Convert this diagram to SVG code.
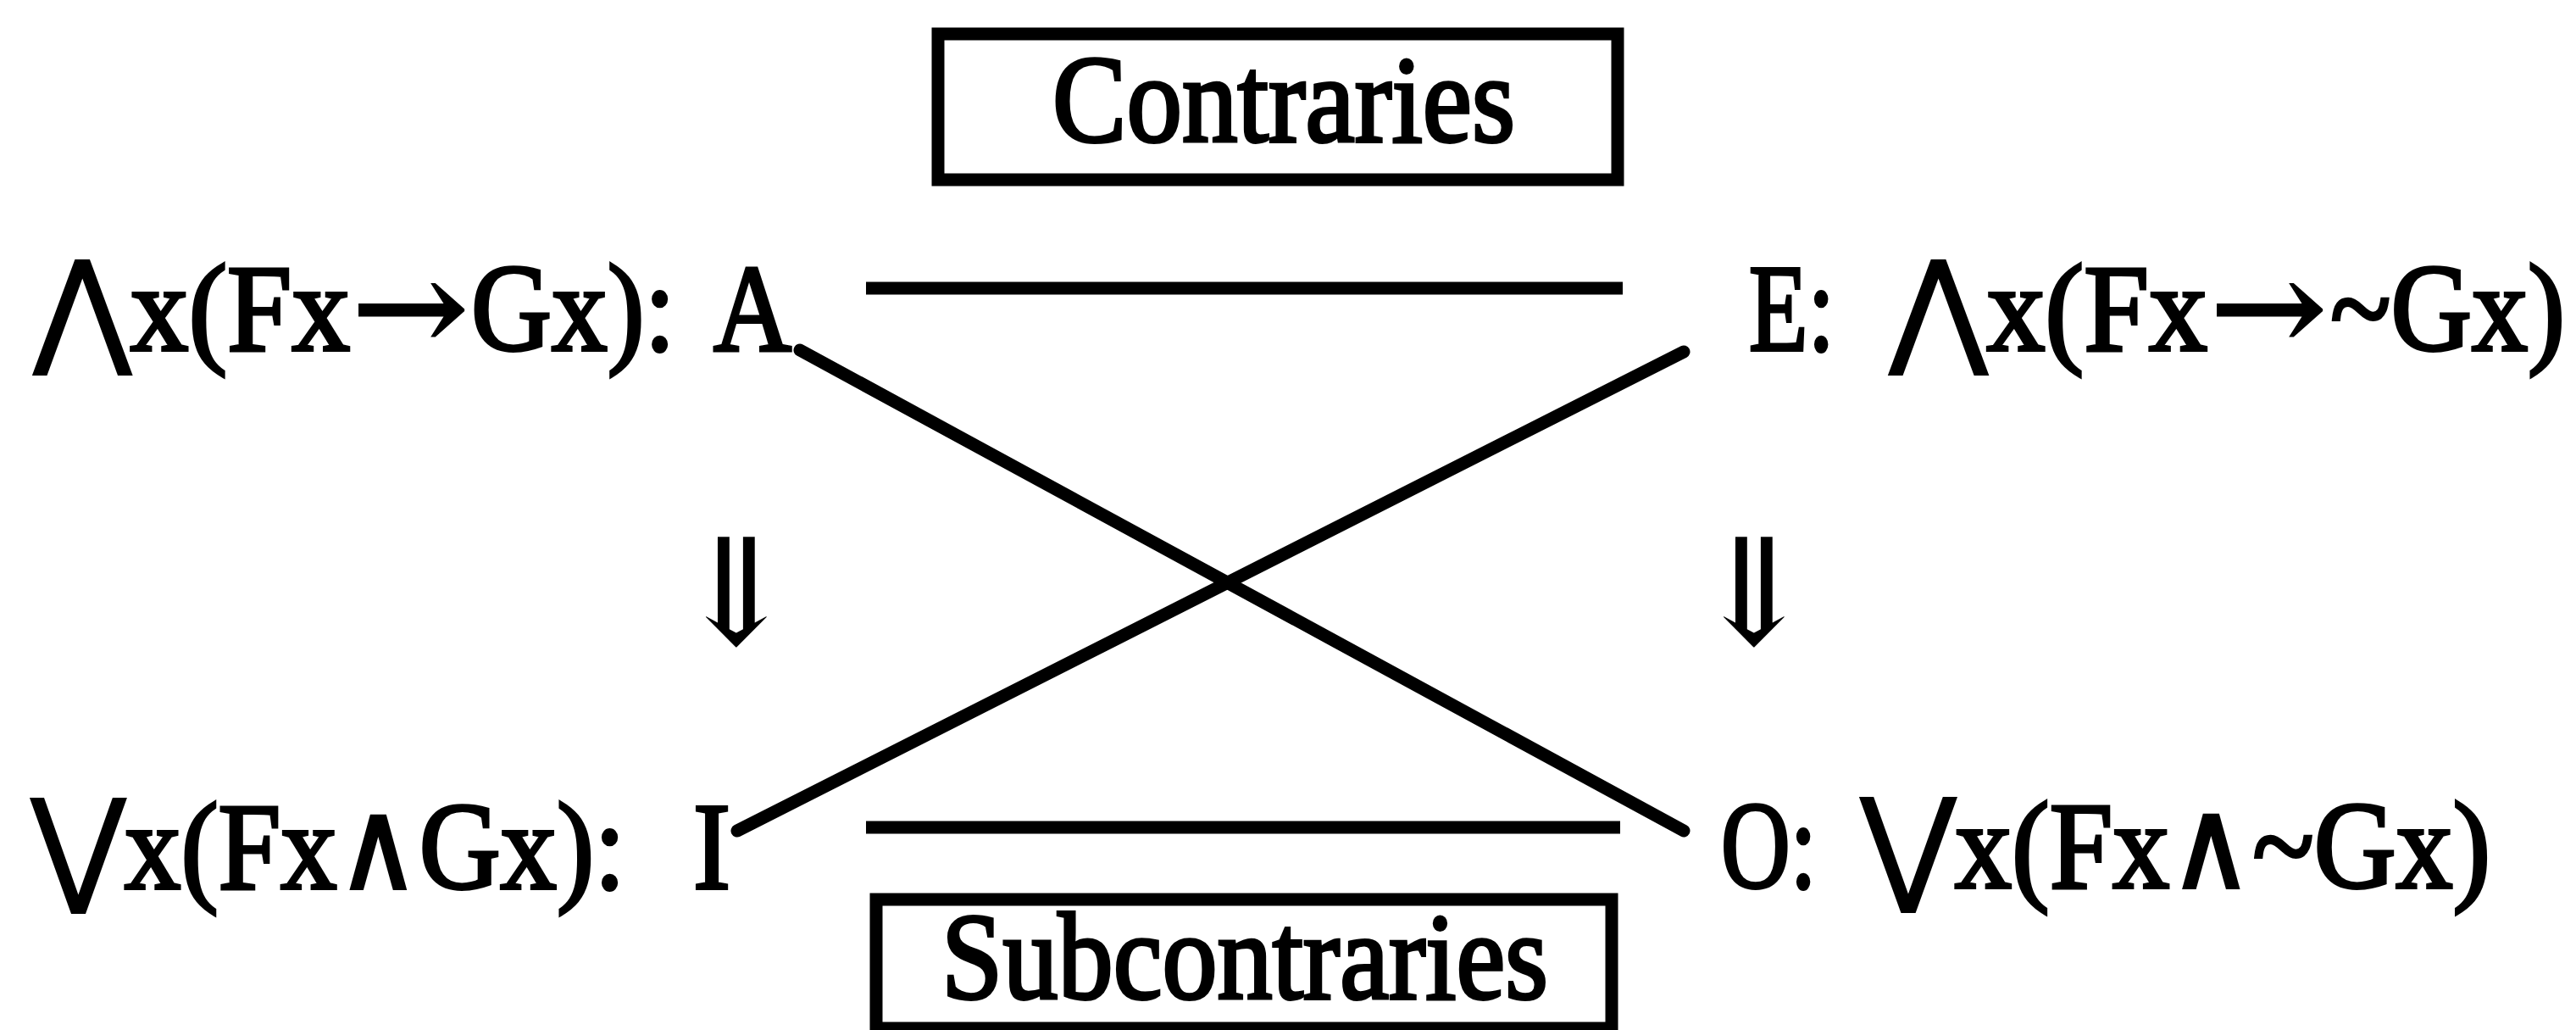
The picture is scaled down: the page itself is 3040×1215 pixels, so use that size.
<svg xmlns="http://www.w3.org/2000/svg" width="3040" height="1215" viewBox="0 0 3040 1215">
<style>
.t { font-family: "Liberation Serif", "DejaVu Serif", serif; font-size: 146px; fill: #000; stroke: #000; stroke-width: 4; }
.sym { font-family: "DejaVu Serif", "DejaVu Sans", serif; font-size: 146px; fill: #000; stroke: #000; stroke-width: 4; }
.box { fill: none; stroke: #000; stroke-width: 15; }
.ln { stroke: #000; stroke-width: 15; fill: none; }
.ar { font-family: "DejaVu Serif", "DejaVu Sans", serif; font-size: 175px; fill: #000; }
</style>
<rect width="3040" height="1215" fill="#fff"/>
<g id="connectors">
<line class="ln" x1="1022" y1="340" x2="1915" y2="340"/>
<line class="ln" x1="1022" y1="976" x2="1912" y2="976"/>
<line class="ln" x1="944" y1="413" x2="1987" y2="980" stroke-linecap="round"/>
<line class="ln" x1="1987" y1="415" x2="870" y2="980" stroke-linecap="round"/>
</g>
<g id="contraries">
<rect class="box" x="1107" y="40" width="802" height="172"/>
<text class="t" x="1242" y="167" textLength="546" lengthAdjust="spacingAndGlyphs">Contraries</text>
</g>
<g id="subcontraries">
<rect class="box" x="1034" y="1061" width="868" height="152"/>
<text class="t" x="1111" y="1178" textLength="716" lengthAdjust="spacingAndGlyphs">Subcontraries</text>
</g>
<g id="node-A">
<text class="t" x="41" y="413" textLength="372" lengthAdjust="spacingAndGlyphs">⋀x(Fx</text>
<text class="sym" x="416" y="413" textLength="136" lengthAdjust="spacingAndGlyphs">→</text>
<text class="t" x="556" y="413" textLength="241" lengthAdjust="spacingAndGlyphs">Gx):</text>
<text class="t" x="842" y="413" textLength="92" lengthAdjust="spacingAndGlyphs">A</text>
</g>
<g id="node-E">
<text class="t" x="2064" y="413" textLength="101" lengthAdjust="spacingAndGlyphs">E:</text>
<text class="t" x="2231" y="413" textLength="374" lengthAdjust="spacingAndGlyphs">⋀x(Fx</text>
<text class="sym" x="2609" y="413" textLength="136" lengthAdjust="spacingAndGlyphs">→</text>
<text class="t" x="2750" y="413" textLength="277" lengthAdjust="spacingAndGlyphs">~Gx)</text>
</g>
<g id="node-I">
<text class="t" x="38" y="1048" textLength="700" lengthAdjust="spacingAndGlyphs">⋁x(Fx∧Gx):</text>
<text class="t" x="818" y="1048" textLength="44" lengthAdjust="spacingAndGlyphs">I</text>
</g>
<g id="node-O">
<text class="t" x="2031" y="1047" textLength="113" lengthAdjust="spacingAndGlyphs">O:</text>
<text class="t" x="2197" y="1047" textLength="742" lengthAdjust="spacingAndGlyphs">⋁x(Fx∧~Gx)</text>
</g>
<g id="implication-left">
<text class="ar" x="869" y="760" text-anchor="middle">⇓</text>
</g>
<g id="implication-right">
<text class="ar" x="2070" y="760" text-anchor="middle">⇓</text>
</g>
</svg>
